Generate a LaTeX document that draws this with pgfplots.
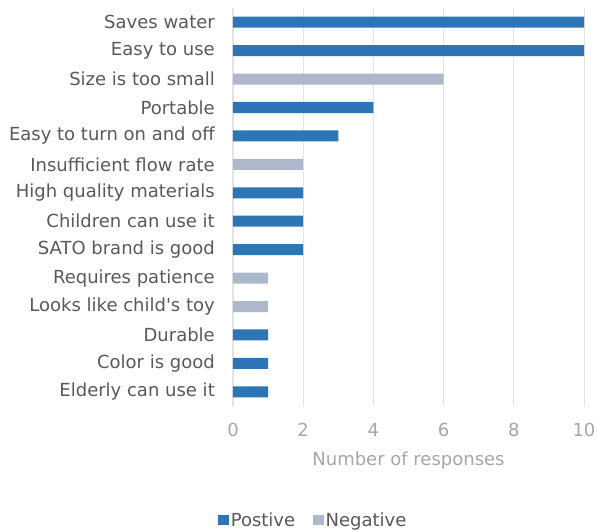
\documentclass[border=0pt]{standalone}
\usepackage{fontspec}
\setmainfont{DejaVu Sans}
\usepackage{pgfplots}
\pgfplotsset{compat=1.18}
\definecolor{pos}{HTML}{2E75B6}
\definecolor{neg}{HTML}{ADB9CA}
\definecolor{lbl}{HTML}{595959}
\definecolor{tlbl}{HTML}{A6A6A6}
\definecolor{gridc}{HTML}{E3E3E3}
\begin{document}
\begin{tikzpicture}
\path[use as bounding box] (0pt,0pt) rectangle (598pt,531pt);
\begin{axis}[
  at={(233pt,125pt)}, anchor=south west,
  scale only axis, width=351pt, height=398pt,
  xbar, bar width=11pt, bar shift=0pt,
  xmin=0, xmax=10, ymin=-0.5, ymax=13.5,
  xtick={0,2,4,6,8,10},
  ytick={0,...,13},
  yticklabels={Elderly can use it, Color is good, Durable, Looks like child\textquotesingle s toy, Requires patience, SATO brand is good, Children can use it, High quality materials, Insufficient flow rate, Easy to turn on and off, Portable, Size is too small, Easy to use, Saves water},
  /pgf/number format/assume math mode=true,
  major tick length=0pt,
  axis lines*=left,
  x axis line style={draw=none},
  y axis line style={draw=gridc, line width=1.2pt, -},
  xmajorgrids, grid style={draw=gridc, line width=1pt},
  yticklabel style={font=\fontsize{18}{20}\selectfont, text=lbl, anchor=east, inner sep=0pt, xshift=-18pt},
  xticklabel style={font=\fontsize{18}{20}\selectfont, text=tlbl, anchor=north, inner sep=0pt, yshift=-17pt},
  xlabel={Number of responses},
  xlabel style={font=\fontsize{18}{20}\selectfont, text=tlbl, anchor=center, at={(rel axis cs:0.5,-0.138)}},
  legend style={draw=none, at={(rel axis cs:0.229,-0.287)}, anchor=center, legend columns=2, font=\fontsize{18}{20}\selectfont, text=lbl, /tikz/every even column/.append style={column sep=16pt}, inner sep=0pt},
  legend image code/.code={\fill[#1] (0pt,-5pt) rectangle (10.5pt,5pt);},
]
\addplot[fill=pos, draw=none] coordinates {(1,0) (1,1) (1,2) (2,5) (2,6) (2,7) (3,9) (4,10) (10,12) (10,13)};
\addlegendentry{Postive}
\addplot[fill=neg, draw=none] coordinates {(1,3) (1,4) (2,8) (6,11)};
\addlegendentry{Negative}
\end{axis}
\end{tikzpicture}
\end{document}
